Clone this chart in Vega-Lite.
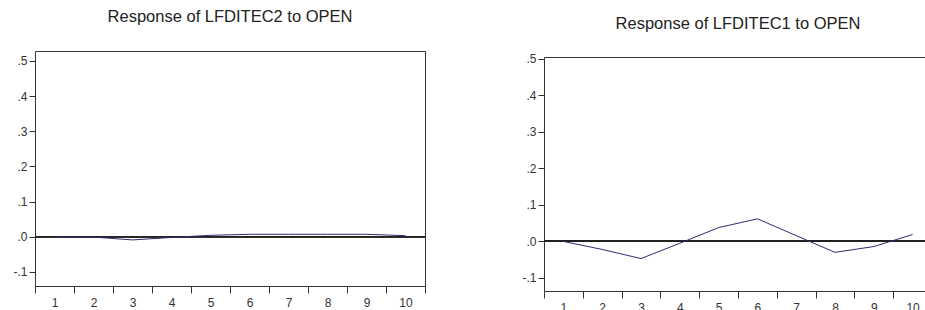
{
  "$schema": "https://vega.github.io/schema/vega-lite/v6.json",
  "padding": {"left": 12, "top": 7, "right": 0, "bottom": 0},
  "background": "white",
  "spacing": 95,
  "config": {
    "view": {"stroke": "#333333", "strokeWidth": 1},
    "font": "Liberation Sans",
    "title": {"font": "Liberation Sans", "fontSize": 16.5, "fontWeight": "normal", "color": "#222222", "anchor": "middle", "offset": 26},
    "axis": {"labelFont": "Liberation Sans", "labelFontSize": 12, "labelColor": "#333333", "tickColor": "#333333", "domain": false, "grid": false, "title": null, "labelOverlap": false}
  },
  "datasets": {
    "c2": [
      {"period": 1, "response": 0.0},
      {"period": 2, "response": -0.001},
      {"period": 3, "response": -0.009},
      {"period": 4, "response": -0.002},
      {"period": 5, "response": 0.004},
      {"period": 6, "response": 0.007},
      {"period": 7, "response": 0.007},
      {"period": 8, "response": 0.007},
      {"period": 9, "response": 0.007},
      {"period": 10, "response": 0.003}
    ],
    "c1": [
      {"period": 1, "response": -0.001},
      {"period": 2, "response": -0.023},
      {"period": 3, "response": -0.048},
      {"period": 4, "response": -0.006},
      {"period": 5, "response": 0.037},
      {"period": 6, "response": 0.061},
      {"period": 7, "response": 0.015},
      {"period": 8, "response": -0.031},
      {"period": 9, "response": -0.015},
      {"period": 10, "response": 0.018}
    ]
  },
  "hconcat": [
    {
      "spacing": 0,
      "vconcat": [
        {
          "width": 390,
          "height": 1,
          "data": {"values": []},
          "mark": "point",
          "view": {"stroke": null}
        },
        {
          "title": "Response of LFDITEC2 to OPEN",
          "width": 390,
          "height": 235,
          "data": {"name": "c2"},
          "layer": [
            {
              "mark": {"type": "rule", "color": "#222222", "strokeWidth": 1},
              "encoding": {"y": {"datum": 0, "type": "quantitative", "scale": {"domain": [-0.14, 0.528], "nice": false, "zero": false},
                      "axis": {"values": [-0.1, 0, 0.1, 0.2, 0.3, 0.4, 0.5], "tickSize": 6, "labelPadding": 2, "labelOverlap": false,
                               "labelExpr": "replace(replace(format(datum.value, '.1f'), '0.', '.'), '\u2212', '-')"}}}
            },
            {
              "mark": {"type": "line", "color": "#2c2c6e", "strokeWidth": 1},
              "encoding": {
                "x": {"field": "period", "type": "ordinal", "scale": {"type": "band", "paddingInner": 0, "paddingOuter": 0},
                      "axis": {"labelAngle": 0, "tickBand": "extent", "tickSize": 7, "labelPadding": 4}},
                "y": {"field": "response", "type": "quantitative", "scale": {"domain": [-0.14, 0.528], "nice": false, "zero": false},
                      "axis": {"values": [-0.1, 0, 0.1, 0.2, 0.3, 0.4, 0.5], "tickSize": 6, "labelPadding": 2, "labelOverlap": false,
                               "labelExpr": "replace(replace(format(datum.value, '.1f'), '0.', '.'), '\u2212', '-')"}}
              }
            }
          ]
        }
      ]
    },
    {
      "spacing": 0,
      "vconcat": [
        {
          "width": 388,
          "height": 7.5,
          "data": {"values": []},
          "mark": "point",
          "view": {"stroke": null}
        },
        {
          "title": {"text": "Response of LFDITEC1 to OPEN", "offset": 20},
          "width": 388,
          "height": 234,
          "data": {"name": "c1"},
          "layer": [
            {
              "mark": {"type": "rule", "color": "#222222", "strokeWidth": 1},
              "encoding": {"y": {"datum": 0, "type": "quantitative", "scale": {"domain": [-0.137, 0.505], "nice": false, "zero": false},
                      "axis": {"values": [-0.1, 0, 0.1, 0.2, 0.3, 0.4, 0.5], "tickSize": 6, "labelPadding": 2, "labelOverlap": false,
                               "labelExpr": "replace(replace(format(datum.value, '.1f'), '0.', '.'), '\u2212', '-')"}}}
            },
            {
              "mark": {"type": "line", "color": "#2c2c6e", "strokeWidth": 1},
              "encoding": {
                "x": {"field": "period", "type": "ordinal", "scale": {"type": "band", "paddingInner": 0, "paddingOuter": 0},
                      "axis": {"labelAngle": 0, "tickBand": "extent", "tickSize": 7, "labelPadding": 4}},
                "y": {"field": "response", "type": "quantitative", "scale": {"domain": [-0.137, 0.505], "nice": false, "zero": false},
                      "axis": {"values": [-0.1, 0, 0.1, 0.2, 0.3, 0.4, 0.5], "tickSize": 6, "labelPadding": 2, "labelOverlap": false,
                               "labelExpr": "replace(replace(format(datum.value, '.1f'), '0.', '.'), '\u2212', '-')"}}
              }
            }
          ]
        }
      ]
    }
  ]
}
